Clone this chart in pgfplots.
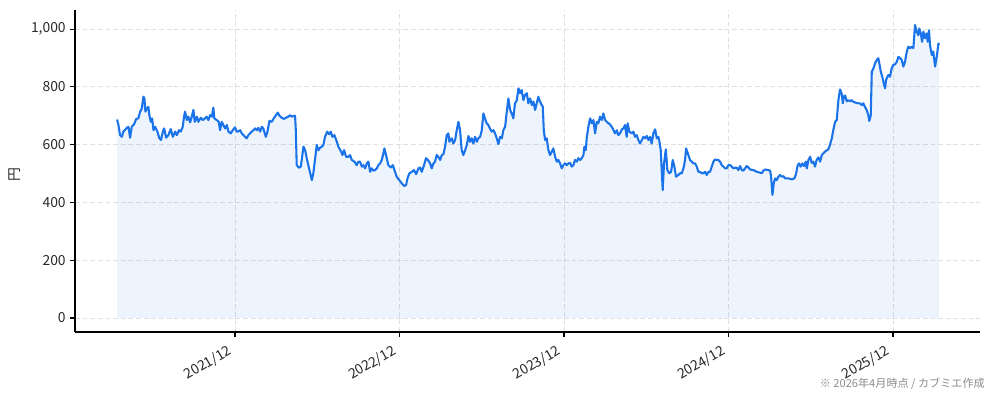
\documentclass[border=0pt]{standalone}
\usepackage{pgfplots}
\pgfplotsset{compat=1.18}
\usepackage{pgfplotstable}
\usepgfplotslibrary{fillbetween}
\usepackage{fontspec}
\setmainfont{Noto Sans CJK JP}
\definecolor{linec}{RGB}{26,115,232}
\definecolor{gridc}{RGB}{224,224,224}
\definecolor{labc}{RGB}{40,40,40}
\pgfplotstableread{
x y
2021.200 687
2021.208 668
2021.218 633
2021.229 627
2021.238 645
2021.259 658
2021.269 662
2021.279 624
2021.289 662
2021.303 670
2021.316 689
2021.329 691
2021.340 714
2021.350 725
2021.360 766
2021.366 760
2021.372 714
2021.381 725
2021.390 731
2021.396 702
2021.405 679
2021.413 691
2021.421 650
2021.431 662
2021.445 645
2021.457 622
2021.467 616
2021.478 645
2021.486 656
2021.498 624
2021.512 633
2021.526 654
2021.539 627
2021.553 645
2021.563 633
2021.577 650
2021.587 645
2021.599 662
2021.607 697
2021.613 714
2021.624 685
2021.633 697
2021.644 677
2021.654 697
2021.664 720
2021.672 679
2021.685 697
2021.694 679
2021.709 693
2021.721 685
2021.735 691
2021.745 697
2021.755 685
2021.765 702
2021.776 697
2021.785 728
2021.791 691
2021.806 685
2021.818 679
2021.826 650
2021.836 679
2021.846 668
2021.857 656
2021.867 668
2021.877 645
2021.891 639
2021.903 650
2021.917 660
2021.927 645
2021.934 645
2021.948 650
2021.958 639
2021.978 627
2021.988 622
2021.998 633
2022.019 645
2022.039 656
2022.049 650
2022.059 658
2022.069 645
2022.080 662
2022.089 656
2022.104 627
2022.114 645
2022.126 682
2022.140 679
2022.150 689
2022.160 697
2022.177 711
2022.187 700
2022.201 693
2022.215 689
2022.226 693
2022.241 697
2022.252 702
2022.262 697
2022.282 700
2022.286 656
2022.292 529
2022.306 520
2022.317 524
2022.333 593
2022.343 581
2022.353 553
2022.367 518
2022.384 477
2022.393 501
2022.404 553
2022.414 599
2022.424 581
2022.434 589
2022.444 593
2022.454 599
2022.464 627
2022.477 645
2022.489 636
2022.499 645
2022.509 627
2022.521 633
2022.536 610
2022.545 593
2022.562 576
2022.570 564
2022.580 581
2022.592 558
2022.606 558
2022.616 564
2022.627 547
2022.643 541
2022.657 529
2022.667 541
2022.677 541
2022.688 524
2022.697 529
2022.708 518
2022.718 535
2022.728 541
2022.738 506
2022.748 518
2022.758 510
2022.768 512
2022.779 518
2022.788 529
2022.799 535
2022.809 547
2022.819 570
2022.825 587
2022.835 564
2022.849 529
2022.864 521
2022.876 529
2022.886 512
2022.900 489
2022.916 477
2022.931 466
2022.945 457
2022.957 460
2022.965 483
2022.977 501
2022.992 506
2023.005 512
2023.018 498
2023.032 518
2023.042 521
2023.052 506
2023.066 529
2023.078 553
2023.089 547
2023.103 535
2023.113 518
2023.123 535
2023.133 541
2023.143 564
2023.153 558
2023.164 547
2023.174 564
2023.184 567
2023.194 593
2023.204 633
2023.214 639
2023.220 610
2023.235 622
2023.244 604
2023.255 616
2023.265 650
2023.275 679
2023.285 650
2023.295 581
2023.305 564
2023.316 581
2023.326 599
2023.336 630
2023.346 610
2023.356 622
2023.366 604
2023.376 627
2023.387 610
2023.396 622
2023.407 627
2023.417 650
2023.427 708
2023.437 690
2023.447 674
2023.457 668
2023.467 655
2023.478 645
2023.488 650
2023.498 639
2023.508 622
2023.518 602
2023.528 627
2023.539 622
2023.548 650
2023.559 662
2023.569 714
2023.579 760
2023.589 720
2023.599 708
2023.609 691
2023.619 743
2023.630 754
2023.640 795
2023.650 778
2023.660 789
2023.670 754
2023.680 772
2023.691 778
2023.700 743
2023.711 760
2023.721 737
2023.731 749
2023.741 720
2023.751 743
2023.761 766
2023.771 749
2023.782 737
2023.788 731
2023.794 650
2023.802 616
2023.812 622
2023.822 581
2023.832 564
2023.843 576
2023.852 587
2023.863 558
2023.873 541
2023.883 547
2023.893 535
2023.903 518
2023.913 529
2023.923 535
2023.934 529
2023.944 535
2023.954 537
2023.964 524
2023.974 529
2023.984 547
2023.995 541
2024.004 553
2024.015 547
2024.025 553
2024.035 564
2024.041 593
2024.049 581
2024.055 622
2024.065 662
2024.076 691
2024.086 674
2024.096 685
2024.106 639
2024.116 679
2024.126 674
2024.136 697
2024.147 685
2024.156 708
2024.167 685
2024.177 679
2024.187 674
2024.197 670
2024.213 656
2024.227 639
2024.238 650
2024.247 633
2024.258 639
2024.268 653
2024.278 656
2024.288 668
2024.298 627
2024.304 674
2024.314 645
2024.329 639
2024.339 645
2024.349 627
2024.359 633
2024.369 616
2024.379 604
2024.390 616
2024.400 627
2024.410 622
2024.420 630
2024.430 616
2024.440 627
2024.450 604
2024.460 639
2024.471 653
2024.481 622
2024.491 627
2024.497 610
2024.505 581
2024.511 512
2024.517 443
2024.525 535
2024.536 584
2024.545 512
2024.557 501
2024.568 506
2024.578 547
2024.588 524
2024.598 489
2024.612 495
2024.623 501
2024.633 501
2024.643 518
2024.653 547
2024.659 587
2024.673 564
2024.683 547
2024.694 541
2024.703 535
2024.714 535
2024.724 524
2024.734 506
2024.744 506
2024.754 501
2024.764 501
2024.774 506
2024.785 495
2024.795 506
2024.805 506
2024.815 524
2024.825 541
2024.835 549
2024.846 547
2024.855 547
2024.866 541
2024.876 529
2024.886 524
2024.896 518
2024.906 518
2024.916 529
2024.927 529
2024.937 524
2024.947 518
2024.957 520
2024.967 520
2024.977 512
2024.987 526
2024.998 512
2025.007 510
2025.018 518
2025.028 526
2025.038 521
2025.048 514
2025.068 512
2025.089 506
2025.109 503
2025.119 501
2025.129 510
2025.139 514
2025.159 512
2025.170 510
2025.176 489
2025.184 426
2025.192 466
2025.200 483
2025.210 477
2025.220 489
2025.230 495
2025.241 489
2025.251 491
2025.261 483
2025.281 483
2025.302 480
2025.317 483
2025.326 495
2025.338 529
2025.346 535
2025.356 524
2025.366 535
2025.376 526
2025.387 541
2025.393 518
2025.403 547
2025.413 558
2025.423 537
2025.433 541
2025.443 524
2025.453 547
2025.463 556
2025.474 541
2025.484 564
2025.494 570
2025.504 576
2025.524 584
2025.534 599
2025.545 622
2025.554 650
2025.565 679
2025.575 685
2025.585 754
2025.595 791
2025.606 775
2025.612 743
2025.618 766
2025.626 770
2025.636 750
2025.646 754
2025.656 750
2025.666 754
2025.676 748
2025.697 744
2025.707 743
2025.717 743
2025.727 737
2025.737 743
2025.747 730
2025.757 720
2025.767 702
2025.773 682
2025.782 702
2025.788 852
2025.798 864
2025.808 881
2025.818 893
2025.828 899
2025.834 881
2025.843 852
2025.852 835
2025.863 806
2025.869 795
2025.875 824
2025.883 835
2025.889 841
2025.899 835
2025.909 864
2025.919 876
2025.930 878
2025.940 887
2025.950 904
2025.960 899
2025.970 893
2025.980 870
2025.990 887
2026.001 922
2026.010 939
2026.021 934
2026.031 939
2026.041 934
2026.051 1014
2026.061 991
2026.071 979
2026.077 1002
2026.086 985
2026.094 956
2026.102 991
2026.112 968
2026.122 985
2026.128 956
2026.136 996
2026.142 945
2026.153 910
2026.162 922
2026.173 870
2026.183 904
2026.193 950
2026.197 945
}\pricetable
\begin{document}
\begin{tikzpicture}
\begin{axis}[
  at={(0,0)}, anchor=south west,
  scale only axis,
  width=651.6pt, height=231.84pt,
  xmin=2020.944, xmax=2026.446,
  ymin=-48.4, ymax=1066,
  axis x line*=bottom, axis y line*=left,
  axis line style={-, line width=0.8pt, black},
  tick align=outside,
  major tick length=3.5pt,
  tick style={line width=0.8pt, black},
  xtick={2021.917,2022.917,2023.917,2024.917,2025.917},
  xticklabels={2021/12,2022/12,2023/12,2024/12,2025/12},
  ytick={0,200,400,600,800,1000},
  scaled y ticks=false,
  /pgf/number format/.cd, 1000 sep={,}, assume math mode=true,
  /pgfplots/.cd,
  tick label style={font=\fontsize{10}{12}\selectfont, text=labc},
  xticklabel style={rotate=30, anchor=north east, inner sep=1pt, xshift=-6.5pt, yshift=-0.5pt},
  yticklabel style={inner sep=1pt, xshift=-2pt},
  grid=major,
  major grid style={gridc, line width=0.6pt, dash pattern=on 3.5pt off 2pt},
  ylabel={円},
  every axis y label/.style={at={(axis description cs:-0.0663,0.49)}, rotate=90, anchor=center, font=\fontsize{10}{12}\selectfont, text=labc},
  clip=false,
]
\addplot[name path=price, draw=linec, line width=1.5pt, line join=round] table[x=x,y=y]{\pricetable};
\addplot[name path=base, draw=none] coordinates {(2021.200,0) (2026.197,0)};
\addplot[fill=linec, fill opacity=0.08, draw=none] fill between[of=price and base];
\end{axis}
\node[anchor=east, text=black!45, font=\fontsize{8}{10}\selectfont, inner sep=0pt] at (655.2pt,-37.4pt) {※ 2026年4月時点 / カブミエ作成};
\pgfresetboundingbox
\path[use as bounding box] (-54pt,-49.68pt) rectangle (661.68pt,239.04pt);
\end{tikzpicture}
\end{document}
